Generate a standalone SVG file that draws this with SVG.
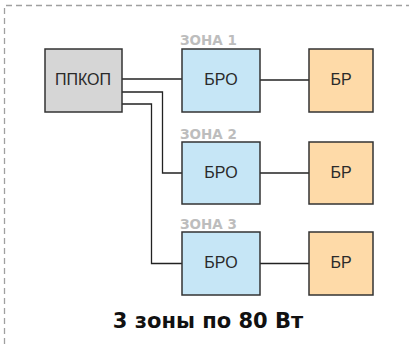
<svg xmlns="http://www.w3.org/2000/svg" width="409" height="344" viewBox="0 0 409 344">
<style>
.frame{fill:none;stroke:#a0a0a0;stroke-width:1.3;stroke-dasharray:6,4}
.box{stroke:#333;stroke-width:1.5}
.ppk{fill:#d6d6d6}
.bro{fill:#c6e6f6}
.br{fill:#fedaa8}
.t{font-family:"Liberation Sans",Arial,sans-serif;font-size:16px;fill:#2a2a2a;text-anchor:middle}
.z{font-family:"DejaVu Sans","Liberation Sans",sans-serif;font-size:13.5px;font-weight:bold;fill:#bdbdbd}
.w{fill:none;stroke:#222;stroke-width:1.3}
.title{font-family:"DejaVu Sans","Liberation Sans",sans-serif;font-size:21px;font-weight:bold;fill:#111;text-anchor:middle}
</style>
<path class="frame" d="M4.5,344 V5.5 H409"/>
<g id="connectors">
<path class="w" d="M122,79 H182"/>
<path class="w" d="M122,92 H162.5 V173 H182"/>
<path class="w" d="M122,104 H151.5 V263.5 H182"/>
<path class="w" d="M260,80 H309"/>
<path class="w" d="M260,173 H309"/>
<path class="w" d="M260,263.5 H309"/>
</g>
<g id="ppkop"><rect class="box ppk" x="45" y="49" width="77" height="63"/><text class="t" x="83" y="85">ППКОП</text></g>
<g id="zone1-label"><text class="z" x="180" y="45">ЗОНА 1</text></g>
<g id="bro1"><rect class="box bro" x="182" y="49" width="78" height="63"/><text class="t" x="221" y="85">БРО</text></g>
<g id="br1"><rect class="box br" x="309" y="49" width="64" height="63"/><text class="t" x="341" y="85">БР</text></g>
<g id="zone2-label"><text class="z" x="180" y="138.5">ЗОНА 2</text></g>
<g id="bro2"><rect class="box bro" x="182" y="142" width="78" height="62"/><text class="t" x="221" y="178">БРО</text></g>
<g id="br2"><rect class="box br" x="309" y="142" width="64" height="62"/><text class="t" x="341" y="178">БР</text></g>
<g id="zone3-label"><text class="z" x="180" y="228.5">ЗОНА 3</text></g>
<g id="bro3"><rect class="box bro" x="182" y="232" width="78" height="63"/><text class="t" x="221" y="268">БРО</text></g>
<g id="br3"><rect class="box br" x="309" y="232" width="64" height="63"/><text class="t" x="341" y="268">БР</text></g>
<text class="title" x="208" y="328">3 зоны по 80 Вт</text>
</svg>
